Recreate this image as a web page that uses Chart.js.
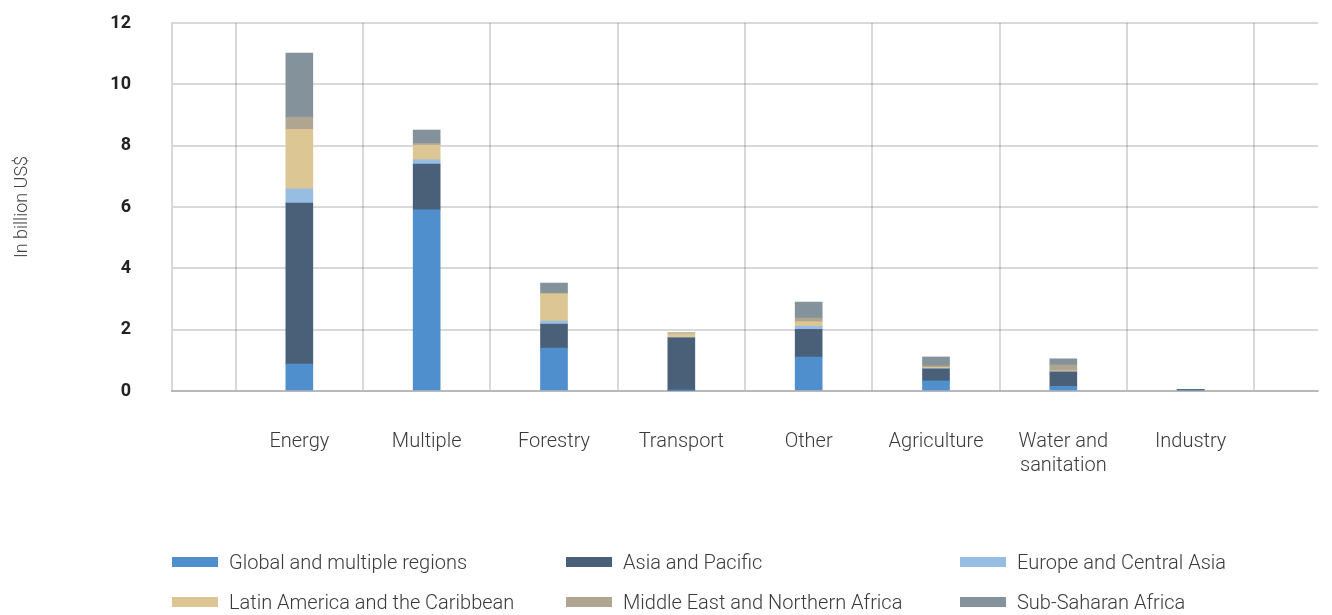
<!DOCTYPE html>
<html>
<head>
<meta charset="utf-8">
<script src="https://cdn.jsdelivr.net/npm/chart.js@4/dist/chart.umd.min.js"></script>
<style>
  html, body { margin: 0; padding: 0; background: #ffffff; }
  #wrap { width: 1332px; height: 615px; position: relative; }
</style>
</head>
<body>
<div id="wrap"><canvas id="chart" width="1332" height="615"></canvas></div>
<script>
// Climate finance by sector, stacked by region (billion US$)
const sectors = ['Energy', 'Multiple', 'Forestry', 'Transport', 'Other', 'Agriculture', ['Water and', 'sanitation'], 'Industry'];
const regionNames = ['Global and multiple regions', 'Asia and Pacific', 'Europe and Central Asia',
                     'Latin America and the Caribbean', 'Middle East and Northern Africa', 'Sub-Saharan Africa'];
const regionColors = ['#4f8fcd', '#4a6078', '#97bde3', '#dcc693', '#afa591', '#84939b'];

const globalMultiple   = [0.88, 5.91, 1.40, 0.02, 1.11, 0.33, 0.15, 0.00];
const asiaPacific      = [5.25, 1.49, 0.78, 1.71, 0.90, 0.39, 0.47, 0.05];
const europeCentral    = [0.46, 0.14, 0.10, 0.01, 0.10, 0.01, 0.01, 0.00];
const latinAmerica     = [1.94, 0.48, 0.89, 0.13, 0.15, 0.04, 0.03, 0.00];
const middleEastNA     = [0.40, 0.05, 0.02, 0.01, 0.12, 0.05, 0.19, 0.00];
const subSaharanAfrica = [2.09, 0.44, 0.33, 0.02, 0.52, 0.29, 0.20, 0.00];

const yTicks = [0, 2, 4, 6, 8, 10, 12];

const seriesValues = [globalMultiple, asiaPacific, europeCentral, latinAmerica, middleEastNA, subSaharanAfrica];

// empty slots on both ends so the sectors sit on the inner grid lines
const labels = [''].concat(sectors, ['']);
const pad = arr => [null].concat(arr, [null]);

const GRID = 'rgba(0,0,0,0.15)';
const FONT = 'Roboto, "Open Sans", sans-serif';
const TEXT = '#3a3a3a';

const datasets = seriesValues.map((vals, i) => ({
  label: regionNames[i],
  data: pad(vals),
  backgroundColor: regionColors[i],
  borderWidth: 0,
  barThickness: 27
}));

// three-column legend under the axis
const gridLegend = {
  id: 'gridLegend',
  afterDraw(chart) {
    const ctx = chart.ctx;
    const left = chart.chartArea.left;
    ctx.save();
    chart.data.datasets.forEach((ds, i) => {
      const col = i % 3, row = Math.floor(i / 3);
      const x = left + col * 394;
      const y = 562 + row * 40;
      ctx.fillStyle = ds.backgroundColor;
      ctx.fillRect(x, y - 5, 46, 10);
      ctx.fillStyle = TEXT;
      ctx.font = '300 20px ' + FONT;
      ctx.textBaseline = 'middle';
      ctx.textAlign = 'left';
      ctx.fillText(ds.label, x + 57, y + 2);
    });
    ctx.restore();
  }
};

new Chart(document.getElementById('chart'), {
  type: 'bar',
  data: { labels, datasets },
  plugins: [gridLegend],
  options: {
    responsive: false,
    animation: false,
    devicePixelRatio: 1,
    layout: { padding: { top: 23, right: 14, bottom: 144, left: 0 } },
    plugins: { legend: { display: false }, tooltip: { enabled: false } },
    scales: {
      x: {
        stacked: true,
        offset: false,
        z: 1,
        grid: { color: GRID, lineWidth: 2, drawTicks: false },
        border: { color: GRID, width: 2 },
        ticks: {
          autoSkip: false, maxRotation: 0, padding: 39,
          color: TEXT, font: { family: FONT, size: 20, weight: '300', lineHeight: 1.2 }
        },
        afterFit: s => { s.height = 80; s.paddingLeft = 0; s.paddingRight = 0; }
      },
      y: {
        stacked: true,
        min: 0, max: 12,
        z: 1,
        afterBuildTicks: s => { s.ticks = yTicks.map(v => ({ value: v })); },
        grid: { color: GRID, lineWidth: 2, drawTicks: false },
        border: { color: GRID, width: 2 },
        ticks: {
          padding: 41, color: '#222222',
          font: { family: FONT, size: 18, weight: 'bold' }
        },
        title: {
          display: true, text: 'In billion US$', color: '#444444',
          font: { family: FONT, size: 18, weight: '300' }, padding: { top: 12, bottom: 0 }
        },
        afterFit: s => { s.width = 172; s.paddingTop = 0; s.paddingBottom = 0; }
      }
    }
  }
});
</script>
</body>
</html>
